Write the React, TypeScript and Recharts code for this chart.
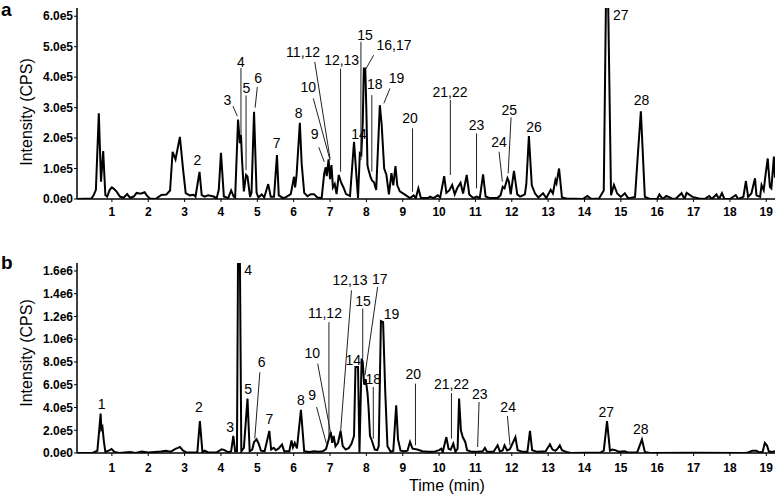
import React from 'react';
import { LineChart, Line, XAxis, YAxis, ReferenceLine, ReferenceDot } from 'recharts';

const FONT = 'Arial, "Liberation Sans", sans-serif';

// retention time ticks (min)
const TIME_TICKS = [1, 2, 3, 4, 5, 6, 7, 8, 9, 10, 11, 12, 13, 14, 15, 16, 17, 18, 19];
const INTENSITY_TICKS_A = [0, 1e5, 2e5, 3e5, 4e5, 5e5, 6e5];
const INTENSITY_TICKS_B = [0, 2e5, 4e5, 6e5, 8e5, 1e6, 1.2e6, 1.4e6, 1.6e6];

// chromatogram a: [time (min), intensity (CPS)]
const traceA: [number, number][] = [
  [0.04, 0], [0.44, 2e3], [0.5, 1.3e4], [0.56, 3e4], [0.64, 2.81e5], [0.7, 5.7e4], [0.76, 1.57e5],
  [0.82, 1.3e4], [0.87, 8e3], [0.94, 3e4], [1.0, 3.8e4], [1.06, 3.3e4], [1.13, 2.4e4], [1.22, 8e3],
  [1.32, 4e3], [1.42, 1.6e4], [1.5, 4e3], [1.6, 8e3], [1.68, 2e4], [1.75, 1.8e4], [1.81, 1.8e4],
  [1.9, 2.2e4], [1.96, 1.2e4], [2.04, 2e3], [2.2, 0], [2.36, 1.3e4], [2.5, 1.5e4], [2.6, 2.8e4],
  [2.67, 1.55e5], [2.75, 1.3e5], [2.87, 2.04e5], [2.96, 9.5e4], [3.03, 1.9e4], [3.14, 1.2e4],
  [3.25, 1.4e4], [3.3, 8e3], [3.37, 6e4], [3.41, 8.9e4], [3.47, 1.3e4], [3.55, 8e3], [3.65, 1.2e4],
  [3.8, 8e3], [3.88, 2e3], [3.94, 3e4], [4.0, 1.52e5], [4.08, 8e3], [4.2, 3e3], [4.28, 2.8e4],
  [4.35, 8e3], [4.39, 5e3], [4.47, 2.61e5], [4.52, 1.83e5], [4.55, 2.1e5], [4.58, 1.28e5],
  [4.63, 2.5e4], [4.69, 7.9e4], [4.73, 7.4e4], [4.8, 7e3], [4.84, 2e4], [4.91, 2.86e5], [4.98, 2e4],
  [5.03, 5e3], [5.12, 1.5e4], [5.19, 5e3], [5.3, 4.9e4], [5.37, 7e3], [5.46, 7e3], [5.54, 1.44e5],
  [5.59, 1.2e4], [5.71, 3e3], [5.8, 7e3], [5.92, 1.6e4], [6.01, 7.3e4], [6.04, 3.8e4], [6.08, 7.9e4],
  [6.17, 2.5e5], [6.22, 1.16e5], [6.29, 2e4], [6.38, 9e3], [6.47, 1.6e4], [6.56, 1.6e4], [6.65, 5e3],
  [6.77, 3e3], [6.84, 8.4e4], [6.88, 1.04e5], [6.91, 7.5e4], [6.96, 1.3e5], [7.0, 6.5e4],
  [7.04, 1.11e5], [7.08, 3.8e4], [7.13, 4.9e4], [7.18, 1.6e4], [7.24, 7.9e4], [7.29, 6e4],
  [7.32, 5e4], [7.37, 3.8e4], [7.44, 1.6e4], [7.55, 1e4], [7.66, 1.88e5], [7.73, 7e4], [7.77, 3e3],
  [7.82, 1.5e5], [7.86, 1.45e5], [7.9, 2.5e5], [7.93, 4.28e5], [7.97, 4.28e5], [8.0, 2.9e5],
  [8.03, 1.1e5], [8.06, 9.5e4], [8.12, 7e4], [8.16, 6e4], [8.21, 5.5e4], [8.27, 3e4], [8.37, 3.08e5],
  [8.42, 2.45e5], [8.49, 1.0e5], [8.55, 8e4], [8.62, 1.5e4], [8.69, 8.5e4], [8.74, 4.5e4],
  [8.8, 1.08e5], [8.85, 4.5e4], [8.92, 2.5e4], [9.05, 1.5e4], [9.2, 3e3], [9.3, 1.2e4], [9.36, 3e3],
  [9.43, 3.5e4], [9.5, 3e3], [9.7, 3e3], [9.75, 8e3], [9.85, 3e3], [9.96, 1.2e4], [10.03, 5e3],
  [10.14, 7.5e4], [10.2, 2e4], [10.28, 2.8e4], [10.36, 4.6e4], [10.43, 1.5e4], [10.5, 3.6e4],
  [10.59, 5.3e4], [10.66, 1.8e4], [10.76, 7.9e4], [10.83, 1.5e4], [10.94, 3e3], [11.03, 8e3],
  [11.12, 3e3], [11.21, 8.1e4], [11.28, 8e3], [11.4, 3e3], [11.6, 3e3], [11.69, 1.2e4], [11.75, 4e4],
  [11.8, 3.5e4], [11.88, 6.8e4], [11.92, 5.7e4], [11.97, 1.5e4], [12.06, 9.2e4], [12.15, 1.5e4],
  [12.23, 8e3], [12.36, 1.5e4], [12.4, 5e4], [12.47, 2.07e5], [12.55, 4.5e4], [12.64, 1.8e4],
  [12.73, 5e3], [12.86, 1.9e4], [12.95, 3e3], [13.07, 3e4], [13.13, 1.8e4], [13.2, 6.2e4],
  [13.23, 5.2e4], [13.3, 1.0e5], [13.38, 5e3], [13.5, 2e3], [13.95, 0], [14.08, 1e4], [14.19, 0],
  [14.4, 2e3], [14.53, 2.8e4], [14.59, 6.5e5], [14.65, 6.5e5], [14.73, 1.2e4], [14.81, 4.6e4],
  [14.9, 1.8e4], [15.0, 7e3], [15.11, 1.9e4], [15.2, 2e3], [15.39, 7e3], [15.47, 1.5e5],
  [15.55, 2.88e5], [15.66, 7e3], [15.8, 0], [16.0, 0], [16.06, 1.5e4], [16.15, 0], [16.25, 1e4],
  [16.4, 2e3], [16.5, 0], [16.67, 1.9e4], [16.75, 0], [16.81, 2e4], [16.97, 7e3], [17.15, 2e3],
  [17.3, 0], [17.43, 1e4], [17.5, 0], [17.63, 1.5e4], [17.7, 0], [17.78, 1.9e4], [17.85, 0],
  [18.0, 0], [18.16, 1.3e4], [18.23, 0], [18.37, 7e3], [18.44, 5.9e4], [18.5, 7e3], [18.59, 1.8e4],
  [18.69, 6.8e4], [18.73, 1.2e4], [18.83, 7e3], [18.87, 4.6e4], [18.93, 2.9e4], [18.98, 7.9e4],
  [19.04, 1.33e5], [19.1, 4e4], [19.14, 3.5e4], [19.21, 1.39e5], [19.24, 7e4],
];

// chromatogram b
const traceB: [number, number][] = [
  [0.04, 0], [0.47, 0], [0.53, 1e4], [0.6, 2e4], [0.65, 2.0e5], [0.69, 3.46e5], [0.71, 2.1e5],
  [0.74, 2.29e5], [0.78, 1e5], [0.82, 1e4], [0.94, 2.5e4], [0.99, 3.5e4], [1.07, 1e4], [1.2, 0],
  [1.5, 8e3], [1.65, 0], [1.82, 1.2e4], [2.0, 5e3], [2.35, 1.3e4], [2.48, 2e4], [2.62, 1.2e4],
  [2.76, 3.8e4], [2.82, 4.5e4], [2.87, 5.3e4], [2.96, 2e4], [3.05, 5e3], [3.35, 5e3], [3.42, 2.81e5],
  [3.49, 8e3], [3.55, 2e4], [3.65, 5e3], [3.88, 5e3], [4.02, 3.3e4], [4.1, 2.5e4], [4.2, 5e3],
  [4.28, 1.5e4], [4.34, 1.5e5], [4.39, 1.5e4], [4.44, 1.5e4], [4.47, 1.75e6], [4.52, 1.75e6],
  [4.56, 1.5e4], [4.63, 4.5e4], [4.73, 4.78e5], [4.79, 1.5e4], [4.86, 3e4], [4.91, 9.7e4],
  [4.98, 1.2e5], [5.04, 8e4], [5.1, 2e4], [5.2, 1.5e4], [5.33, 1.94e5], [5.38, 3e4], [5.45, 4.5e4],
  [5.51, 2.5e4], [5.58, 3.8e4], [5.68, 7.4e4], [5.74, 1.5e4], [5.88, 1.5e4], [5.94, 1.1e5],
  [5.98, 5e4], [6.03, 8.8e4], [6.09, 4e4], [6.2, 3.8e5], [6.29, 1.5e4], [6.43, 8e3], [6.56, 1.5e4],
  [6.69, 1e4], [6.8, 1.5e4], [6.89, 3.5e4], [6.97, 1.27e5], [7.02, 1.85e5], [7.06, 9e4],
  [7.1, 1.5e5], [7.15, 6e4], [7.22, 9e4], [7.29, 1.94e5], [7.35, 6e4], [7.43, 3e4], [7.52, 4.5e4],
  [7.59, 8e4], [7.66, 1.5e5], [7.7, 7.56e5], [7.77, 7.56e5], [7.81, 5e3], [7.87, 8.3e5],
  [7.9, 8e5], [7.94, 6e5], [7.98, 6.5e5], [8.03, 5.3e5], [8.06, 4e5], [8.1, 1.5e5], [8.15, 1.1e5],
  [8.23, 3e4], [8.3, 2.5e4], [8.34, 6e4], [8.4, 1.16e6], [8.46, 1.15e6], [8.52, 5.3e5], [8.58, 6e4],
  [8.67, 1e4], [8.74, 2e4], [8.82, 4.2e5], [8.87, 1.2e5], [8.94, 2e4], [9.05, 1.5e4], [9.13, 2e4],
  [9.2, 9.7e4], [9.27, 3.8e4], [9.4, 3e4], [9.54, 1.5e4], [9.7, 1e4], [9.85, 1e4], [10.0, 2.5e4],
  [10.06, 3.8e4], [10.1, 8e3], [10.2, 1.4e5], [10.26, 3.8e4], [10.32, 3e4], [10.39, 8.2e4],
  [10.45, 1e4], [10.51, 3.8e4], [10.55, 4.78e5], [10.6, 2e5], [10.65, 1.4e5], [10.72, 9.7e4],
  [10.77, 2.5e4], [10.9, 1e4], [11.05, 1e4], [11.2, 1.5e4], [11.26, 4.4e4], [11.32, 1e4],
  [11.5, 1e4], [11.61, 6.8e4], [11.67, 1.5e4], [11.75, 2.2e4], [11.8, 6.8e4], [11.87, 2.2e4],
  [11.95, 3.5e4], [12.1, 1.4e5], [12.16, 2.5e4], [12.3, 1e4], [12.43, 1e4], [12.5, 1.94e5],
  [12.56, 2.5e4], [12.7, 1e4], [12.93, 1.5e4], [13.05, 7.7e4], [13.12, 3e4], [13.2, 2e4],
  [13.26, 3.8e4], [13.32, 6.8e4], [13.38, 2.5e4], [13.5, 1e4], [13.62, 0], [14.45, 5e3],
  [14.53, 2e4], [14.62, 2.81e5], [14.7, 2e4], [14.76, 3e4], [14.85, 2.5e4], [14.95, 1e4],
  [15.1, 1.5e4], [15.2, 5e3], [15.45, 5e3], [15.58, 1.18e5], [15.66, 1e4], [15.8, 0], [17.0, 3e3],
  [18.4, 0], [18.5, 5e3], [18.62, 2e4], [18.73, 2e4], [18.8, 5e3], [18.9, 1e4], [18.96, 8.8e4],
  [19.02, 6.5e4], [19.07, 1.5e4], [19.15, 1e4], [19.24, 1.5e4],
];

type Peak = { text: string; t: number; i: number; line?: [number, number, number, number] };

// peak numbers: label anchor, optional leader line [t1, i1, t2, i2]
const peaksA: Peak[] = [
  { text: '2', t: 3.35, i: 1.28e5 },
  { text: '3', t: 4.18, i: 3.25e5, line: [4.33, 3.05e5, 4.45, 2.72e5] },
  { text: '4', t: 4.55, i: 4.5e5, line: [4.55, 4.3e5, 4.55, 2.1e5] },
  { text: '5', t: 4.7, i: 3.63e5, line: [4.69, 3.4e5, 4.69, 9.5e4] },
  { text: '6', t: 5.02, i: 3.97e5, line: [5.0, 3.68e5, 4.94, 3.0e5] },
  { text: '7', t: 5.53, i: 1.83e5 },
  { text: '8', t: 6.14, i: 2.81e5 },
  { text: '9', t: 6.58, i: 2.13e5, line: [6.69, 1.7e5, 6.84, 1.22e5] },
  { text: '10', t: 6.4, i: 3.68e5, line: [6.54, 3.3e5, 7.0, 1.28e5] },
  { text: '11,12', t: 6.26, i: 4.83e5, line: [6.58, 4.5e5, 7.0, 1.33e5] },
  { text: '12,13', t: 7.32, i: 4.56e5, line: [7.29, 4.28e5, 7.29, 9e4] },
  { text: '14', t: 7.8, i: 2.15e5 },
  { text: '15', t: 7.96, i: 5.38e5, line: [7.85, 5.16e5, 7.85, 1.28e5] },
  { text: '16,17', t: 8.76, i: 5.05e5, line: [8.2, 4.72e5, 7.99, 4.28e5] },
  { text: '18', t: 8.23, i: 3.79e5, line: [8.15, 3.41e5, 8.15, 9e4] },
  { text: '19', t: 8.83, i: 3.96e5, line: [8.65, 3.63e5, 8.48, 3.14e5] },
  { text: '20', t: 9.2, i: 2.65e5, line: [9.27, 2.32e5, 9.27, 2.4e4] },
  { text: '21,22', t: 10.3, i: 3.52e5, line: [10.31, 3.25e5, 10.31, 7.9e4] },
  { text: '23', t: 11.03, i: 2.43e5, line: [11.03, 2.15e5, 11.03, 3.5e4] },
  { text: '24', t: 11.65, i: 1.88e5, line: [11.65, 1.55e5, 11.74, 5.7e4] },
  { text: '25', t: 11.93, i: 2.92e5, line: [11.98, 2.68e5, 11.9, 8.4e4] },
  { text: '26', t: 12.61, i: 2.37e5 },
  { text: '27', t: 15.0, i: 6.03e5 },
  { text: '28', t: 15.57, i: 3.25e5 },
];

const peaksB: Peak[] = [
  { text: '1', t: 0.72, i: 4.28e5 },
  { text: '2', t: 3.39, i: 4.05e5 },
  { text: '3', t: 4.25, i: 2.29e5 },
  { text: '4', t: 4.75, i: 1.61e6 },
  { text: '5', t: 4.75, i: 5.66e5 },
  { text: '6', t: 5.12, i: 8.0e5, line: [5.07, 7.1e5, 4.93, 1.27e5] },
  { text: '7', t: 5.33, i: 3.02e5 },
  { text: '8', t: 6.2, i: 4.63e5 },
  { text: '9', t: 6.51, i: 5.07e5, line: [6.63, 4.04e5, 6.9, 8.3e4] },
  { text: '10', t: 6.51, i: 8.83e5, line: [6.66, 7.86e5, 7.02, 1.7e5] },
  { text: '11,12', t: 6.86, i: 1.23e6, line: [6.97, 1.15e6, 6.97, 1.12e5] },
  { text: '12,13', t: 7.55, i: 1.52e6, line: [7.59, 1.43e6, 7.29, 1.85e5] },
  { text: '14', t: 7.64, i: 8.15e5 },
  { text: '15', t: 7.91, i: 1.34e6, line: [7.9, 1.27e6, 7.9, 8.3e5] },
  { text: '17', t: 8.37, i: 1.53e6, line: [8.31, 1.46e6, 7.96, 6.83e5] },
  { text: '18', t: 8.19, i: 6.54e5, line: [8.19, 5.8e5, 8.19, 1.27e5] },
  { text: '19', t: 8.69, i: 1.22e6 },
  { text: '20', t: 9.29, i: 6.98e5, line: [9.35, 6.1e5, 9.35, 6.8e4] },
  { text: '21,22', t: 10.34, i: 6.1e5, line: [10.34, 5.27e5, 10.34, 1.27e5] },
  { text: '23', t: 11.12, i: 5.16e5, line: [11.1, 4.48e5, 11.06, 5.3e4] },
  { text: '24', t: 11.9, i: 4.05e5, line: [11.88, 3.25e5, 11.95, 6.8e4] },
  { text: '27', t: 14.6, i: 3.6e5 },
  { text: '28', t: 15.55, i: 2.14e5 },
];

const sci = (v: number) => v.toExponential(1).replace('e+', 'e');

interface PanelProps {
  trace: [number, number][];
  peaks: Peak[];
  yMax: number;
  yTicks: number[];
  height: number;
  marginTop: number;
  marginBottom: number;
  tickGap: number;
}

const Panel = ({ trace, peaks, yMax, yTicks, height, marginTop, marginBottom, tickGap }: PanelProps) => {
  const data = trace.map(([t, i]) => ({ t, i }));
  return (
    <LineChart width={777} height={height} data={data} margin={{ top: marginTop, right: 2, bottom: marginBottom, left: 0 }}>
      <XAxis
        dataKey="t"
        type="number"
        domain={[0.04, 19.24]}
        allowDataOverflow
        ticks={TIME_TICKS}
        height={30}
        tickSize={3}
        tickMargin={tickGap}
        axisLine={{ stroke: '#000', strokeWidth: 1.5 }}
        tickLine={{ stroke: '#000' }}
        tick={{ fontSize: 12, fontWeight: 'bold', fill: '#000', fontFamily: FONT }}
      />
      <YAxis
        type="number"
        domain={[0, yMax]}
        allowDataOverflow
        ticks={yTicks}
        width={77}
        tickSize={3}
        tickMargin={1}
        tickFormatter={sci}
        axisLine={{ stroke: '#000', strokeWidth: 1.5 }}
        tickLine={{ stroke: '#000' }}
        tick={{ fontSize: 12, fontWeight: 'bold', fill: '#000', fontFamily: FONT }}
      />
      <Line dataKey="i" type="linear" stroke="#000" strokeWidth={2} dot={false} isAnimationActive={false} />
      {peaks.filter((p) => p.line).map((p) => (
        <ReferenceLine
          key={`l-${p.text}`}
          segment={[{ x: p.line![0], y: p.line![1] }, { x: p.line![2], y: p.line![3] }]}
          stroke="#222"
          strokeWidth={1}
          ifOverflow="visible"
        />
      ))}
      {peaks.map((p) => (
        <ReferenceDot
          key={`d-${p.text}`}
          x={p.t}
          y={p.i}
          r={1}
          ifOverflow="visible"
          shape={(props: any) => (
            <text x={props.cx} y={props.cy} textAnchor="middle" dominantBaseline="central" fontSize={14} fontFamily={FONT} fill="#000">
              {p.text}
            </text>
          )}
        />
      ))}
    </LineChart>
  );
};

const yTitle = (top: number) => (
  <div style={{ position: 'absolute', left: 27, top, transform: 'translate(-50%, -50%) rotate(-90deg)', whiteSpace: 'nowrap', fontSize: 16, fontFamily: FONT, lineHeight: 1 }}>
    Intensity (CPS)
  </div>
);

export default function App() {
  return (
    <div style={{ position: 'absolute', left: 0, top: 0, width: 777, height: 496, background: '#fff', fontFamily: FONT }}>
      <div style={{ position: 'absolute', left: 0, top: 0 }}>
        <Panel trace={traceA} peaks={peaksA} yMax={6.27e5} yTicks={INTENSITY_TICKS_A} height={240} marginTop={8} marginBottom={11} tickGap={5} />
      </div>
      <div style={{ position: 'absolute', left: 0, top: 248 }}>
        <Panel trace={traceB} peaks={peaksB} yMax={1.67e6} yTicks={INTENSITY_TICKS_B} height={248} marginTop={15} marginBottom={13} tickGap={7} />
      </div>
      <div style={{ position: 'absolute', left: 1, top: 0, fontSize: 19, fontWeight: 'bold', lineHeight: 1 }}>a</div>
      <div style={{ position: 'absolute', left: 1, top: 253, fontSize: 19, fontWeight: 'bold', lineHeight: 1 }}>b</div>
      {yTitle(112)}
      {yTitle(353)}
      <div style={{ position: 'absolute', left: 447, top: 486, transform: 'translate(-50%, -50%)', whiteSpace: 'nowrap', fontSize: 16, lineHeight: 1 }}>
        Time (min)
      </div>
    </div>
  );
}
